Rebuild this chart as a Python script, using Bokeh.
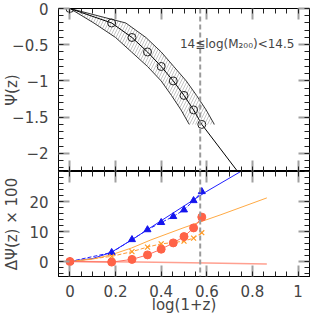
from bokeh.plotting import figure
from bokeh.models import (LinearAxis, FixedTicker, Span, Label, Range1d, Grid,
                          CustomJSTickFormatter)
from bokeh.layouts import column
from bokeh.embed import file_html
from bokeh.resources import INLINE

# ---------------- data ----------------
# top panel: Psi(z) vs log(1+z)
lz_pts = [0.0, 0.183, 0.272, 0.340, 0.400, 0.453, 0.500, 0.542, 0.578]
psi_pts = [0.0, -0.20, -0.40, -0.60, -0.80, -1.00, -1.20, -1.40, -1.60]
lz_model = [0.0, 0.183, 0.272, 0.340, 0.400, 0.453, 0.500, 0.542, 0.578, 0.74, 0.80]
psi_model = [0.0, -0.20, -0.40, -0.60, -0.80, -1.00, -1.20, -1.40, -1.60, -2.27, -2.52]
band_psi = [0.0, -0.20, -0.40, -0.60, -0.80, -1.00, -1.20, -1.40, -1.60]
band_lz_low = [0.0, 0.105, 0.200, 0.270, 0.340, 0.400, 0.445, 0.487, 0.523]
band_lz_high = [0.0, 0.245, 0.333, 0.400, 0.455, 0.510, 0.555, 0.597, 0.633]

# bottom panel: Delta Psi(z) x 100
dpsi_tri = [0.0, 3.0, 7.3, 10.6, 13.0, 15.0, 17.2, 20.3, 23.3]
dpsi_x = [0.0, 1.7, 3.3, 4.8, 5.9, 6.3, 6.8, 7.8, 9.6]
dpsi_circ = [0.0, -0.2, 0.7, 2.2, 4.1, 6.2, 8.3, 11.2, 14.8]
lz_blue = [0.0, 0.10, 0.18, 0.275, 0.40, 0.50, 0.60, 0.706, 0.80]
dpsi_blue = [0.0, 1.0, 3.0, 7.4, 13.6, 18.5, 23.4, 28.1, 32.3]
lz_orange = [0.0, 0.10, 0.18, 0.27, 0.355, 0.50, 0.662, 0.863]
dpsi_orange = [0.0, 0.8, 2.2, 4.5, 7.2, 11.3, 15.6, 21.2]
lz_red = [0.0, 0.30, 0.60, 0.863]
dpsi_red = [0.0, -0.2, -0.5, -0.8]

z_cut = 0.571
x_major = [0, 0.2, 0.4, 0.6, 0.8, 1.0]
x_minor = [round(-0.05 + 0.05 * i, 2) for i in range(23)]
y1_major = [0, -0.5, -1, -1.5, -2]
y1_minor = [round(-2.2 + 0.1 * i, 2) for i in range(23)]
y2_major = [0, 10, 20]
y2_minor = [-4 + 2 * i for i in range(18)]

FONT = "DejaVu Sans"
TXT = "#444444"

fmt = CustomJSTickFormatter(code="""
var s = Math.abs(tick).toString();
return (tick < 0 ? '\u2212' : '') + s;
""")
blank = CustomJSTickFormatter(code="return '';")


def style_axis(ax, labeled, standoff, title=None, title_standoff=0):
    ax.axis_line_color = "black"
    ax.axis_line_width = 1
    ax.major_tick_in = 11
    ax.major_tick_out = 0
    ax.major_tick_line_color = "#a0a0a0"
    ax.major_tick_line_width = 2
    ax.minor_tick_in = 5
    ax.minor_tick_out = 0
    ax.minor_tick_line_color = "#222222"
    ax.minor_tick_line_width = 1
    if labeled:
        ax.formatter = fmt
        ax.major_label_text_font = FONT
        ax.major_label_text_font_size = "15px"
        ax.major_label_text_color = TXT
        ax.major_label_standoff = standoff
    else:
        ax.formatter = blank
        ax.major_label_text_font_size = "1px"
        ax.major_label_standoff = 0
    if title:
        ax.axis_label = title
        ax.axis_label_text_font = FONT
        ax.axis_label_text_font_size = "15px"
        ax.axis_label_text_font_style = "normal"
        ax.axis_label_text_color = TXT
        ax.axis_label_standoff = title_standoff


def add_axes(p, ymaj, ymin, ytitle, ytitle_standoff, xtitle=None):
    for loc in ["left", "right"]:
        ax = LinearAxis(ticker=FixedTicker(ticks=ymaj, minor_ticks=ymin))
        if loc == "left":
            style_axis(ax, True, 10, ytitle, ytitle_standoff)
        else:
            style_axis(ax, False, 0)
        p.add_layout(ax, loc)
    for loc in ["above", "below"]:
        ax = LinearAxis(ticker=FixedTicker(ticks=x_major, minor_ticks=x_minor))
        if loc == "below" and xtitle:
            style_axis(ax, True, 8, xtitle, -4)
        else:
            style_axis(ax, False, 0)
        p.add_layout(ax, loc)
    for r in list(p.center):
        if isinstance(r, Grid):
            r.visible = False


common = dict(output_backend="svg", toolbar_location=None,
              x_axis_location=None, y_axis_location=None,
              background_fill_color="white", border_fill_color="white",
              outline_line_color="black", min_border_left=58,
              min_border_right=7)

# ---------------- top panel ----------------
p1 = figure(width=316, height=171, x_range=Range1d(-0.05, 1.05),
            y_range=Range1d(-2.25, 0.0), min_border_top=8, min_border_bottom=0,
            **common)
add_axes(p1, y1_major, y1_minor, "\u03a8(z)", -12)

band_x = band_lz_high + band_lz_low[::-1]
band_y = band_psi + band_psi[::-1]
p1.patch(band_x, band_y, fill_color=None, line_color=None,
         hatch_pattern="/", hatch_color="#c4c4c4", hatch_scale=6, hatch_weight=1)
p1.line(band_lz_high, band_psi, line_color="#333333", line_width=1)
p1.line(band_lz_low, band_psi, line_color="#333333", line_width=1)
p1.line(lz_model, psi_model, line_color="black", line_width=1)
p1.scatter(lz_pts, psi_pts, marker="circle", size=8, fill_color=None,
           line_color="#222222", line_width=1)
p1.add_layout(Span(location=z_cut, dimension="height", line_color="#9a9a9a",
                   line_width=2, line_dash="5 3"))
p1.add_layout(Label(x=0.482, y=-0.49, text="14\u2266log(M\u2082\u2080\u2080)<14.5",
                    text_font=FONT, text_font_size="12px", text_color=TXT,
                    text_align="left", text_baseline="middle"))

# ---------------- bottom panel ----------------
p2 = figure(width=316, height=145, x_range=Range1d(-0.05, 1.05),
            y_range=Range1d(-5, 30), min_border_top=0, min_border_bottom=40,
            **common)
add_axes(p2, y2_major, y2_minor, "\u0394\u03a8(z) \u00d7 100", 5, "log(1+z)")

p2.line(lz_red, dpsi_red, line_color="#ffa090", line_width=1.5)
p2.line(lz_blue, dpsi_blue, line_color="#2020ff", line_width=1)
p2.line(lz_orange, dpsi_orange, line_color="#ffaa44", line_width=1)
p2.line(lz_pts, dpsi_tri, line_color="#2020ff", line_width=1, line_dash="4 2")
p2.line(lz_pts, dpsi_x, line_color="#ff9933", line_width=1, line_dash="4 2")
p2.line(lz_pts, dpsi_circ, line_color="#ff7060", line_width=1)
p2.scatter(lz_pts, dpsi_tri, marker="triangle", size=7, fill_color="#1515ee",
           line_color="#1515ee")
p2.scatter(lz_pts, dpsi_x, marker="x", size=7, line_color="#ff9922", line_width=1.2)
p2.scatter(lz_pts, dpsi_circ, marker="circle", size=8, fill_color="#ff6347",
           line_color="#ff6347")
p2.add_layout(Span(location=z_cut, dimension="height", line_color="#9a9a9a",
                   line_width=2, line_dash="5 3"))

layout = column(p1, p2, spacing=0)
open("out.html", "w").write(file_html(layout, INLINE))
